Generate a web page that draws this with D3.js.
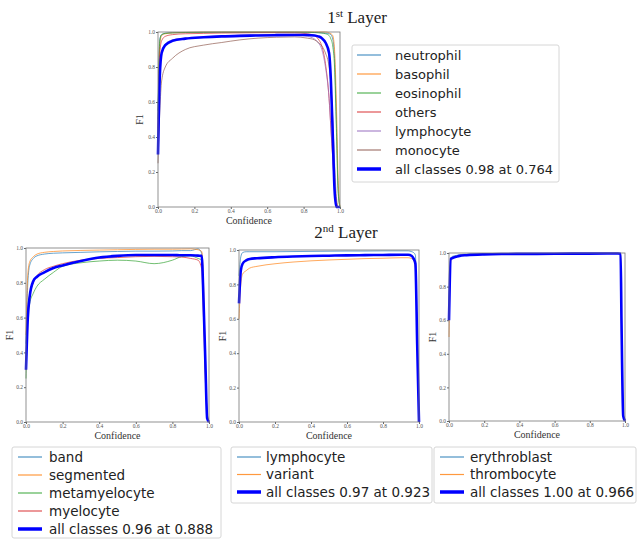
<!DOCTYPE html>
<html>
<head>
<meta charset="utf-8">
<script src="https://cdn.jsdelivr.net/npm/d3@7"></script>
<style>
  body { margin: 0; background: #fff; }
  svg { display: block; }
  .tick text { font-family: "Liberation Serif", serif; font-size: 5.5px; fill: #555; }
  .tick line { stroke: #666; }
  .domain { display: none; }
</style>
</head>
<body>
<div id="chart"></div>
<script>
// confidence grids and F1 values
const topConf = [0, 0.01, 0.02, 0.04, 0.08, 0.15, 0.25, 0.35, 0.45, 0.55, 0.65, 0.75, 0.82, 0.86, 0.88, 0.9, 0.92, 0.94, 0.95, 0.96, 0.97, 0.98, 0.99, 1.0];
const topNeutrophil = [0.55, 0.96, 0.985, 0.993, 0.996, 0.997, 0.998, 0.998, 0.998, 0.998, 0.998, 0.998, 0.998, 0.997, 0.996, 0.995, 0.993, 0.99, 0.985, 0.96, 0.85, 0.5, 0.1, 0.0];
const topBasophil = [0.45, 0.93, 0.98, 0.99, 0.995, 0.998, 1.0, 1.0, 1.0, 1.0, 1.0, 1.0, 1.0, 1.0, 1.0, 1.0, 1.0, 0.995, 0.99, 0.98, 0.9, 0.6, 0.15, 0.0];
const topEosinophil = [0.5, 0.95, 0.985, 0.992, 0.995, 0.997, 0.998, 0.999, 0.999, 0.999, 0.999, 0.999, 0.998, 0.997, 0.996, 0.994, 0.99, 0.98, 0.96, 0.92, 0.8, 0.45, 0.08, 0.0];
const topOthers = [0.4, 0.88, 0.95, 0.975, 0.985, 0.99, 0.992, 0.994, 0.995, 0.996, 0.996, 0.995, 0.99, 0.98, 0.96, 0.92, 0.82, 0.62, 0.45, 0.28, 0.12, 0.03, 0.0, 0.0];
const topLymphocyte = [0.3, 0.78, 0.88, 0.93, 0.955, 0.965, 0.972, 0.978, 0.982, 0.985, 0.986, 0.984, 0.975, 0.96, 0.94, 0.9, 0.8, 0.62, 0.45, 0.28, 0.12, 0.03, 0.0, 0.0];
const topMonocyte = [0.25, 0.55, 0.72, 0.8, 0.85, 0.9, 0.925, 0.94, 0.955, 0.965, 0.97, 0.972, 0.965, 0.955, 0.94, 0.92, 0.88, 0.8, 0.7, 0.5, 0.25, 0.06, 0.0, 0.0];
const topAll = [0.3, 0.75, 0.88, 0.925, 0.95, 0.962, 0.97, 0.975, 0.978, 0.98, 0.982, 0.983, 0.983, 0.98, 0.975, 0.965, 0.94, 0.88, 0.72, 0.42, 0.1, 0.0, 0.0, 0.0];

const gran = [0, 0.01, 0.02, 0.04, 0.06, 0.1, 0.15, 0.2, 0.3, 0.4, 0.5, 0.6, 0.7, 0.8, 0.85, 0.9, 0.94, 0.96, 0.97, 0.98, 0.99, 1.0];
const granBand = [0.45, 0.8, 0.9, 0.94, 0.955, 0.965, 0.97, 0.972, 0.975, 0.978, 0.98, 0.982, 0.982, 0.983, 0.985, 0.985, 0.995, 0.97, 0.7, 0.3, 0.05, 0.0];
const granSegmented = [0.5, 0.85, 0.92, 0.95, 0.965, 0.975, 0.98, 0.983, 0.986, 0.988, 0.99, 0.992, 0.993, 0.993, 0.994, 0.995, 0.99, 0.98, 0.8, 0.35, 0.05, 0.0];
const granMetamyelocyte = [0.25, 0.6, 0.68, 0.74, 0.78, 0.82, 0.86, 0.895, 0.915, 0.925, 0.93, 0.925, 0.91, 0.93, 0.95, 0.955, 0.94, 0.93, 0.7, 0.3, 0.05, 0.0];
const granMyelocyte = [0.3, 0.65, 0.73, 0.8, 0.84, 0.875, 0.895, 0.91, 0.93, 0.94, 0.945, 0.95, 0.952, 0.95, 0.948, 0.94, 0.93, 0.88, 0.6, 0.25, 0.04, 0.0];
const granAll = [0.3, 0.6, 0.72, 0.81, 0.835, 0.86, 0.885, 0.9, 0.925, 0.945, 0.955, 0.96, 0.96, 0.96, 0.958, 0.958, 0.956, 0.955, 0.7, 0.35, 0.02, 0.0];

const lymConf = [0, 0.01, 0.02, 0.04, 0.06, 0.1, 0.2, 0.3, 0.4, 0.5, 0.6, 0.7, 0.8, 0.9, 0.94, 0.96, 0.97, 0.98, 0.99, 1.0];
const lymLymphocyte = [0.85, 0.96, 0.985, 0.99, 0.99, 0.99, 0.99, 0.991, 0.992, 0.993, 0.994, 0.994, 0.995, 0.995, 0.995, 0.99, 0.985, 0.97, 0.5, 0.0];
const lymVariant = [0.6, 0.8, 0.86, 0.88, 0.895, 0.905, 0.92, 0.93, 0.937, 0.942, 0.946, 0.95, 0.952, 0.955, 0.955, 0.95, 0.94, 0.9, 0.45, 0.0];
const lymAll = [0.69, 0.88, 0.92, 0.94, 0.948, 0.952, 0.958, 0.962, 0.965, 0.967, 0.969, 0.97, 0.971, 0.972, 0.972, 0.965, 0.95, 0.92, 0.45, 0.0];

const othConf = [0, 0.01, 0.02, 0.04, 0.06, 0.1, 0.2, 0.3, 0.5, 0.7, 0.9, 0.96, 0.975, 0.98, 0.99, 1.0];
const othErythroblast = [0.7, 0.97, 0.98, 0.985, 0.99, 0.993, 0.995, 0.996, 0.997, 0.998, 0.998, 0.998, 0.997, 0.6, 0.05, 0.0];
const othThrombocyte = [0.5, 0.95, 0.97, 0.98, 0.985, 0.99, 0.993, 0.995, 0.997, 0.998, 0.998, 0.998, 0.995, 0.5, 0.03, 0.0];
const othAll = [0.6, 0.965, 0.97, 0.977, 0.983, 0.987, 0.992, 0.994, 0.995, 0.996, 0.997, 0.997, 0.996, 0.6, 0.03, 0.0];

const ticks = [0, 0.2, 0.4, 0.6, 0.8, 1.0];
const tab10 = ["#1f77b4", "#ff7f0e", "#2ca02c", "#d62728", "#9467bd", "#8c564b"];

const panels = [
  { left: 158, top: 32, w: 182, h: 175, conf: topConf,
    series: [["neutrophil", topNeutrophil], ["basophil", topBasophil], ["eosinophil", topEosinophil],
             ["others", topOthers], ["lymphocyte", topLymphocyte], ["monocyte", topMonocyte]],
    all: topAll, allLabel: "all classes 0.98 at 0.764", ylab: -15,
    legend: { x: 352, y: 45, w: 207, h: 137, step: 19, font: 13, lx: 5, tx: 43 } },
  { left: 26, top: 248, w: 183, h: 174, conf: gran,
    series: [["band", granBand], ["segmented", granSegmented], ["metamyelocyte", granMetamyelocyte], ["myelocyte", granMyelocyte]],
    all: granAll, allLabel: "all classes 0.96 at 0.888", ylab: -13,
    legend: { x: 12, y: 447, w: 209, h: 91, step: 18, font: 13.5, lx: 6, tx: 37 } },
  { left: 239, top: 250, w: 180, h: 172, conf: lymConf,
    series: [["lymphocyte", lymLymphocyte], ["variant", lymVariant]],
    all: lymAll, allLabel: "all classes 0.97 at 0.923", ylab: -13,
    legend: { x: 231, y: 447, w: 201, h: 56, step: 17.5, font: 13.5, lx: 6, tx: 35 } },
  { left: 449, top: 253, w: 176, h: 168, conf: othConf,
    series: [["erythroblast", othErythroblast], ["thrombocyte", othThrombocyte]],
    all: othAll, allLabel: "all classes 1.00 at 0.966", ylab: -13,
    legend: { x: 434, y: 447, w: 202, h: 56, step: 17.5, font: 13.5, lx: 6, tx: 36 } }
];

const svg = d3.select("#chart").append("svg")
  .attr("width", 643).attr("height", 540);

function title(x, y, num, sup) {
  const t = svg.append("text")
    .attr("x", x).attr("y", y)
    .attr("text-anchor", "middle")
    .attr("font-family", "Liberation Serif, serif")
    .attr("font-size", 17).attr("fill", "#222");
  t.append("tspan").text(num);
  t.append("tspan").attr("font-size", 11).attr("dy", -6).text(sup);
  t.append("tspan").attr("dy", 6).text(" Layer");
}
title(357, 23, "1", "st");
title(346, 238, "2", "nd");

panels.forEach(p => {
  const g = svg.append("g").attr("transform", `translate(${p.left},${p.top})`);
  const x = d3.scaleLinear().domain([0, 1]).range([0, p.w]);
  const y = d3.scaleLinear().domain([0, 1]).range([p.h, 0]);

  g.append("g").attr("transform", `translate(0,${p.h})`)
    .call(d3.axisBottom(x).tickValues(ticks).tickFormat(d3.format(".1f")).tickSize(2).tickPadding(0.5));
  g.append("g")
    .call(d3.axisLeft(y).tickValues(ticks).tickFormat(d3.format(".1f")).tickSize(2).tickPadding(1));

  const line = d3.line()
    .x((d, i) => x(p.conf[i]))
    .y(d => y(d))
    .curve(d3.curveMonotoneX);

  p.series.forEach((s, i) => {
    g.append("path").datum(s[1])
      .attr("d", line)
      .attr("fill", "none")
      .attr("stroke", tab10[i])
      .attr("stroke-opacity", 0.75)
      .attr("stroke-width", 0.9);
  });
  g.append("path").datum(p.all)
    .attr("d", line)
    .attr("fill", "none")
    .attr("stroke", "#0000ff")
    .attr("stroke-width", 2.6);

  // frame
  g.append("rect").attr("width", p.w).attr("height", p.h)
    .attr("fill", "none").attr("stroke", "#777").attr("stroke-width", 0.8);

  g.append("text")
    .attr("x", p.w / 2).attr("y", p.h + 17)
    .attr("text-anchor", "middle")
    .attr("font-family", "Liberation Serif, serif")
    .attr("font-size", 10).attr("fill", "#333")
    .text("Confidence");
  g.append("text")
    .attr("transform", `translate(${p.ylab},${p.h / 2}) rotate(-90)`)
    .attr("text-anchor", "middle")
    .attr("font-family", "Liberation Serif, serif")
    .attr("font-size", 10).attr("fill", "#333")
    .text("F1");

  // legend
  const L = p.legend;
  const lg = svg.append("g").attr("transform", `translate(${L.x},${L.y})`);
  lg.append("rect").attr("width", L.w).attr("height", L.h)
    .attr("rx", 2).attr("fill", "#fff")
    .attr("stroke", "#d6d6d6").attr("stroke-width", 1);
  const items = p.series.map((s, i) => ({ name: s[0], color: tab10[i], width: 1.2 }))
    .concat([{ name: p.allLabel, color: "#0000ff", width: 3.5 }]);
  items.forEach((it, i) => {
    const cy = 10 + i * L.step;
    lg.append("line")
      .attr("x1", L.lx).attr("x2", L.lx + 24)
      .attr("y1", cy).attr("y2", cy)
      .attr("stroke", it.color).attr("stroke-width", it.width)
      .attr("stroke-opacity", it.width > 2 ? 1 : 0.8);
    lg.append("text")
      .attr("x", L.tx).attr("y", cy)
      .attr("dy", "0.35em")
      .attr("font-family", "DejaVu Sans, sans-serif")
      .attr("font-size", L.font).attr("fill", "#222")
      .text(it.name);
  });
});
</script>
</body>
</html>
